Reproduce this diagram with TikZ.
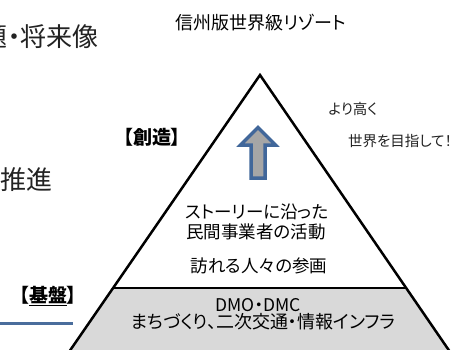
\documentclass[tikz,border=0pt]{standalone}
\usepackage{fontspec}
\newfontfamily\jp[RawFeature=+palt]{Noto Sans CJK JP}
\newfontfamily\jpf{Noto Sans CJK JP}
\definecolor{arrowblue}{HTML}{41679A}
\definecolor{bandgray}{HTML}{D9D9D9}
\definecolor{arrowgray}{HTML}{A6A6A6}
\definecolor{lineblue}{HTML}{4A6D9C}
\definecolor{txtgray}{HTML}{222222}
\begin{document}
\begin{tikzpicture}[x=1pt,y=-1pt,
  txt/.style={inner sep=0pt, text=black},
  big/.style={txt, font={\jp\fontsize{26}{30}\selectfont}, text=txtgray},
  inner/.style={txt, font={\jp\fontsize{17.5}{19}\selectfont}},
  side/.style={txt, font={\jp\fontsize{14.5}{16}\selectfont}, text=txtgray},
  label/.style={txt, font={\jp\bfseries\fontsize{19}{21}\selectfont}},
  edge/.style={line width=2.5pt, line join=miter}]
\useasboundingbox (0,0) rectangle (471,349);
\clip (0,0) rectangle (471,349);
% pyramid
\coordinate (apex) at (260,75);
\coordinate (bl) at (60,365);
\coordinate (br) at (459,365);
\coordinate (gl) at (113,288);
\coordinate (gr) at (406,288);
\fill[bandgray] (gl) -- (gr) -- (br) -- (bl) -- cycle;
\draw[line width=2.5pt] (gl) -- (gr);
\draw[edge] (bl) -- (apex) -- (br);
% arrow
\coordinate (tip) at (258,127.5);
\coordinate (hl) at (240.5,145);
\coordinate (hr) at (275.5,145);
\coordinate (sl) at (251,145);
\coordinate (sr) at (265,145);
\coordinate (bsl) at (251,178);
\coordinate (bsr) at (265,178);
\draw[arrowblue, fill=arrowgray, line width=3.5pt, line join=miter]
  (tip) -- (hr) -- (sr) -- (bsr) -- (bsl) -- (sl) -- (hl) -- cycle;
% texts
\node[txt, font={\jp\fontsize{18}{20}\selectfont}] (title) at (261,23) {信州版世界級リゾート};
\node[side] (higher) at (353,109) {より高く};
\node[side] (world) at (400,141) {世界を目指して！};
\node[label] (create) at (152,137) {【創造】};
\node[label] (base) at (48,296) {【\underline{基盤}】};
\node[inner] (story1) at (257,212) {ストーリーに沿った};
\node[inner] (story2) at (256,232) {民間事業者の活動};
\node[inner] (visit) at (259,266) {訪れる人々の参画};
\node[inner] (dmo) at (258,305) {DMO・DMC};
\node[txt, font={\jp\fontsize{18}{20}\selectfont}] (infra) at (263,322) {まちづくり、二次交通・情報インフラ};
\node[big, anchor=east] (vision) at (99,37) {題・将来像};
\node[big, anchor=east] (promo) at (53,180) {推進};
% blue rule
\coordinate (ruleL) at (0,323);
\coordinate (ruleR) at (73,323);
\draw[lineblue, line width=3pt] (ruleL) -- (ruleR);
\end{tikzpicture}
\end{document}
